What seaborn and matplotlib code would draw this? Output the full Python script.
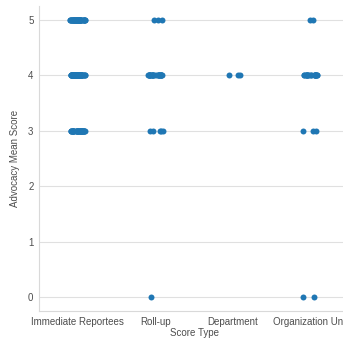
import matplotlib
matplotlib.use("Agg")
import matplotlib.pyplot as plt
import seaborn as sns
import numpy as np
import pandas as pd

# score types and how many rows sit at each score
score_types = ["Immediate Reportees", "Roll-up", "Department", "Organization Unit"]
score_levels = [5, 4, 3, 0]
immediate_counts = [40, 50, 35, 0]
rollup_counts = [3, 25, 5, 1]
department_counts = [0, 3, 0, 0]
orgunit_counts = [2, 20, 3, 2]

rows = []
for st, counts in zip(score_types, [immediate_counts, rollup_counts, department_counts, orgunit_counts]):
    for lvl, n in zip(score_levels, counts):
        rows += [(st, lvl)] * n
df = pd.DataFrame(rows, columns=["Score Type", "Advocacy Mean Score"])

sns.set_theme(style="whitegrid", rc={"grid.color": ".88", "grid.linewidth": 0.8,
                                     "axes.edgecolor": ".85", "axes.linewidth": 0.8})
plt.rcParams['font.family'] = ['Liberation Sans', 'DejaVu Sans']

np.random.seed(3)
fig = plt.figure(figsize=(3.43, 3.42), dpi=100)
ax = fig.add_axes([39 / 343, 31 / 342, 310 / 343, 305 / 342])
sns.stripplot(data=df, x="Score Type", y="Advocacy Mean Score", order=score_types,
              size=4.3, jitter=True, color="#1f77b4", ax=ax)
sns.despine(ax=ax)
ax.set_ylim(-0.25, 5.25)
ax.set_yticks([0, 1, 2, 3, 4, 5])
ax.tick_params(labelsize=7, length=0, pad=4, labelcolor=".3")
ax.set_xlabel("Score Type", fontsize=7, labelpad=1, color=".3")
ax.set_ylabel("Advocacy Mean Score", fontsize=7, labelpad=6, color=".3")

fig.savefig("out.png", dpi=100)
